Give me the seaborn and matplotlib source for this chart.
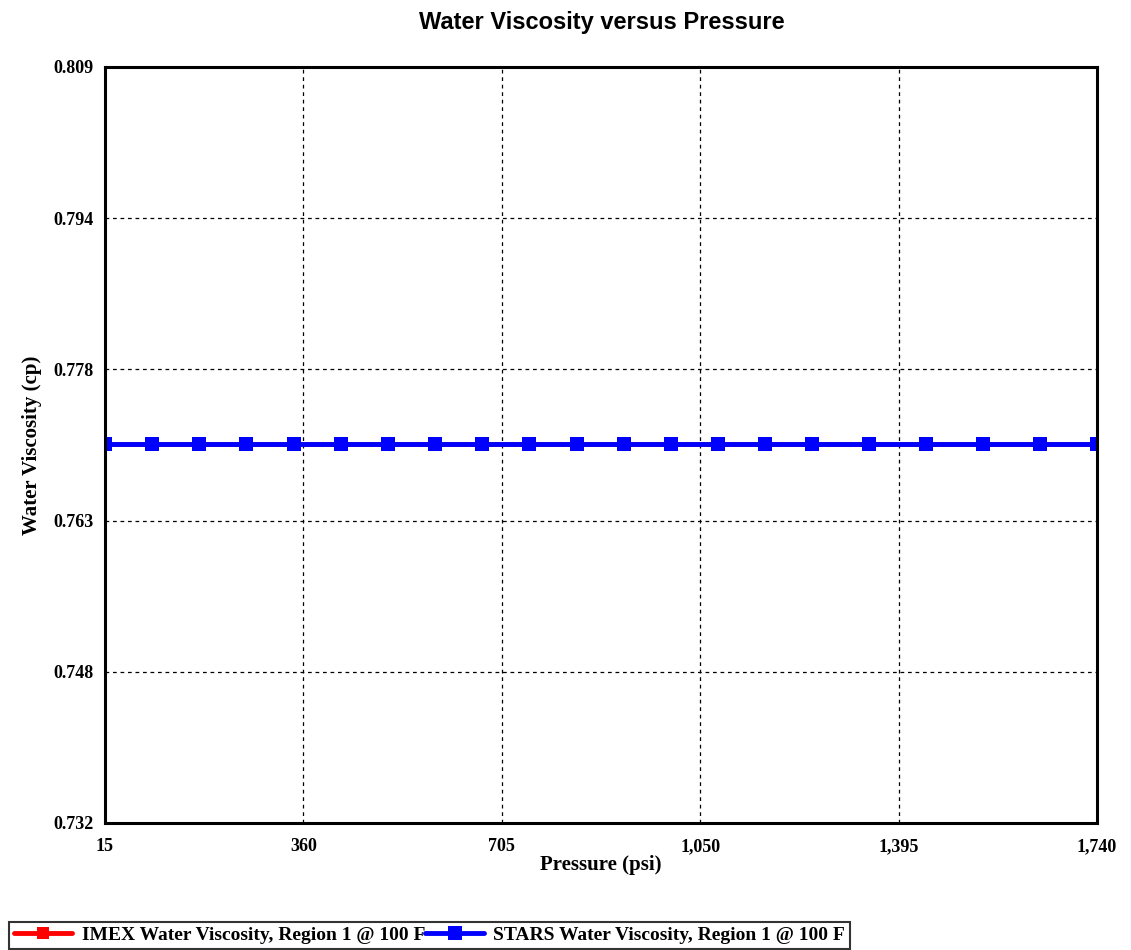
import numpy as np
import pandas as pd
import matplotlib
matplotlib.use('Agg')
import matplotlib.pyplot as plt
import seaborn as sns
from matplotlib.ticker import FuncFormatter

sns.set_style('white')

pressure = [15, 97, 179, 261, 343, 425, 507, 589, 671, 753, 835, 917, 999,
            1081, 1163, 1245, 1344, 1443, 1542, 1641, 1740]
imex_visc = [0.7709] * len(pressure)
stars_visc = [0.7709] * len(pressure)
x_ticks = [15, 360, 705, 1050, 1395, 1740]
y_tick_labels = ['0.732', '0.748', '0.763', '0.778', '0.794', '0.809']

df = pd.DataFrame({'pressure': pressure, 'imex': imex_visc, 'stars': stars_visc})

serif = 'Liberation Serif'
fig = plt.figure(figsize=(11.31, 9.5), dpi=100)
ax = fig.add_axes([0.0928, 0.1337, 0.8772, 0.7958])

sns.lineplot(data=df, x='pressure', y='imex', ax=ax, color='#ff0000', lw=3.5,
             marker='s', markersize=9, markeredgewidth=0,
             label='IMEX Water Viscosity, Region 1 @ 100 F')
sns.lineplot(data=df, x='pressure', y='stars', ax=ax, color='#0000ff', lw=3.5,
             marker='s', markersize=10, markeredgewidth=0,
             label='STARS Water Viscosity, Region 1 @ 100 F')

ax.set_xlim(15, 1740)
ax.set_ylim(0.7323, 0.8093)
ax.set_xticks(x_ticks)
ax.xaxis.set_major_formatter(FuncFormatter(lambda v, p: f'{v:,.0f}'))
yt = np.linspace(0.7323, 0.8093, 6)
ax.set_yticks(yt)
ax.set_yticklabels(y_tick_labels)

ax.grid(True, color='black', linestyle=(0, (3, 3)), lw=0.9)
for s in ax.spines.values():
    s.set_color('black')
    s.set_linewidth(2.2)
ax.tick_params(axis='both', direction='out', length=5, width=1.5, color='black',
               labelcolor='black')
ax.tick_params(axis='x', pad=6)
for lab in ax.get_xticklabels() + ax.get_yticklabels():
    lab.set_fontfamily(serif)
    lab.set_fontweight('bold')
    lab.set_fontsize(13)

ax.set_xlabel('Pressure (psi)', fontfamily=serif, fontweight='bold', fontsize=15,
              labelpad=0, color='black')
ax.set_ylabel('Water Viscosity (cp)', fontfamily=serif, fontweight='bold', fontsize=15,
              labelpad=8, color='black')
fig.suptitle('Water Viscosity versus Pressure', x=0.532, y=0.988, color='black',
             fontfamily='Liberation Sans', fontweight='bold', fontsize=17)

handles, labels = ax.get_legend_handles_labels()
ax.get_legend().remove()
leg = fig.legend(handles, labels, loc='lower left', bbox_to_anchor=(0.008, 0.001),
                 ncol=2, frameon=True, fancybox=False, edgecolor='black',
                 handlelength=3, handletextpad=0.5, columnspacing=0.0,
                 borderpad=0.25, borderaxespad=0, labelcolor='black',
                 prop={'family': serif, 'weight': 'bold', 'size': 14})
leg.get_frame().set_linewidth(1.5)

fig.savefig('out.png', dpi=100)
